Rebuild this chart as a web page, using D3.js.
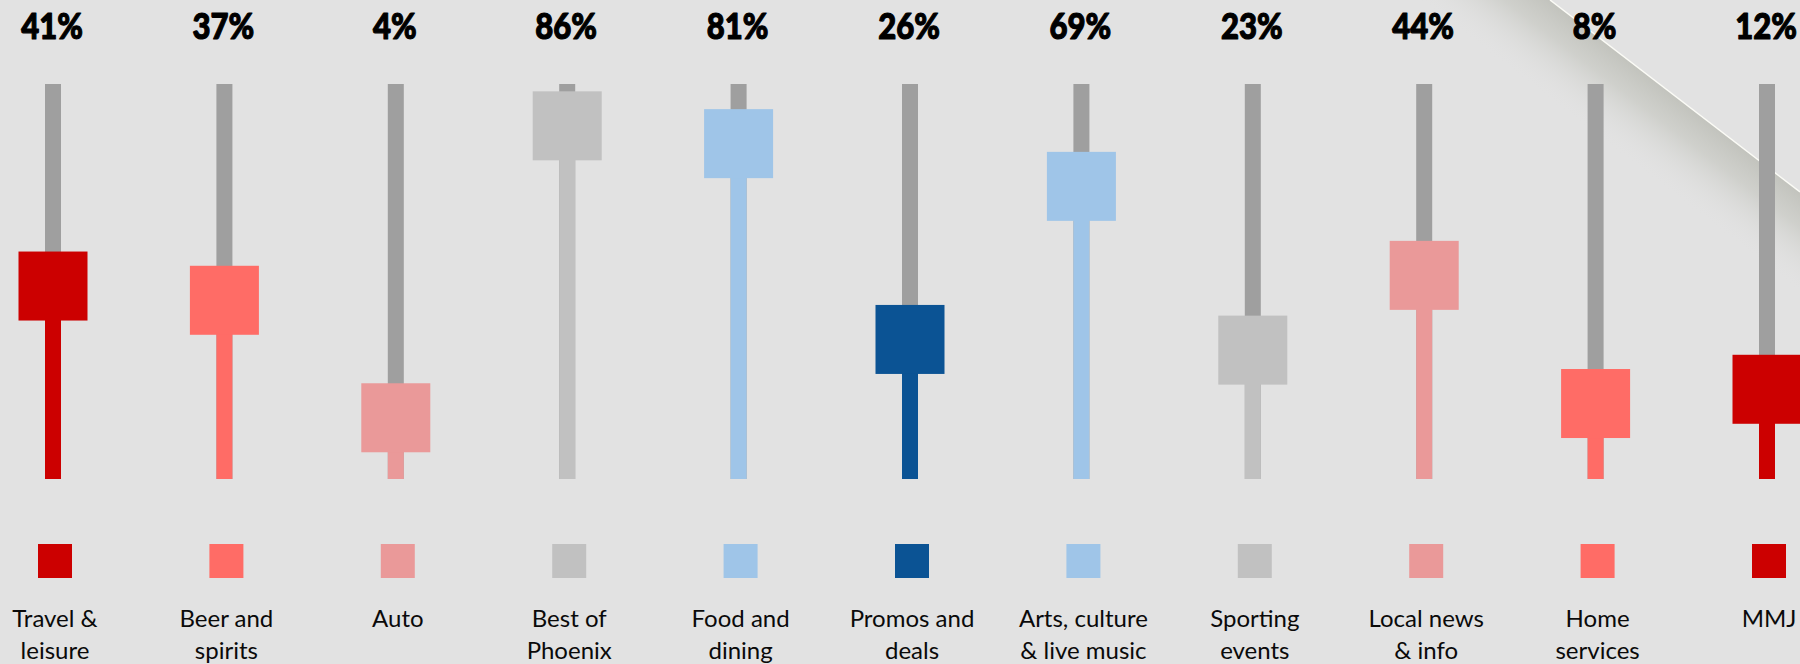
<!DOCTYPE html>
<html>
<head>
<meta charset="utf-8">
<script src="https://cdn.jsdelivr.net/npm/d3@7"></script>
<style>
  html, body { margin: 0; padding: 0; background: #e2e2e2; }
  svg { display: block; }
</style>
</head>
<body>
<svg id="chart" width="1800" height="664"></svg>
<script>
// Share of readers interested in each content category
const categories = ["Travel & leisure", "Beer and spirits", "Auto", "Best of Phoenix", "Food and dining",
  "Promos and deals", "Arts, culture & live music", "Sporting events", "Local news & info", "Home services", "MMJ"];
const labelLines = [["Travel &", "leisure"], ["Beer and", "spirits"], ["Auto"], ["Best of", "Phoenix"],
  ["Food and", "dining"], ["Promos and", "deals"], ["Arts, culture", "& live music"], ["Sporting", "events"],
  ["Local news", "& info"], ["Home", "services"], ["MMJ"]];
const values = [41, 37, 4, 86, 81, 26, 69, 23, 44, 8, 12];
const colors = ["#cc0000", "#ff6c66", "#ea9999", "#c1c1c1", "#9fc5e8", "#0b5394",
  "#9fc5e8", "#c1c1c1", "#ea9999", "#ff6c66", "#cc0000"];

const W = 1800, H = 664;
const svg = d3.select("#chart");

svg.append("rect").attr("width", W).attr("height", H).attr("fill", "#e2e2e2");

// folded corner in the upper right
const defs = svg.append("defs");
const grad = defs.append("linearGradient")
  .attr("id", "fold").attr("gradientUnits", "userSpaceOnUse")
  .attr("x1", 1675).attr("y1", 96).attr("x2", 1675 - 0.609 * 80).attr("y2", 96 + 0.793 * 80);
grad.append("stop").attr("offset", 0).attr("stop-color", "#c2c3bd").attr("stop-opacity", 1);
grad.append("stop").attr("offset", 0.35).attr("stop-color", "#cccdc8").attr("stop-opacity", 0.85);
grad.append("stop").attr("offset", 1).attr("stop-color", "#e2e2e2").attr("stop-opacity", 0);
svg.append("polygon")
  .attr("points", "1550,0 1800,192 1800,340 1360,0")
  .attr("fill", "url(#fold)");
svg.append("line")
  .attr("x1", 1550).attr("y1", 0).attr("x2", 1800).attr("y2", 192)
  .attr("stroke", "#fbfbf6").attr("stroke-width", 1.5);

const x = d3.scalePoint().domain(categories).range([53, 1767]);
const y = d3.scaleLinear().domain([0, 100]).range([432, 76]);

const trackTop = 84, trackBottom = 479, trackW = 16, knob = 69, swatch = 34;

const col = svg.selectAll("g.col")
  .data(categories.map((c, i) => ({ c, i, v: values[i], color: colors[i], lines: labelLines[i] })))
  .join("g").attr("class", "col")
  .attr("transform", d => `translate(${x(d.c)},0)`);

// value label
col.append("text")
  .attr("text-anchor", "middle")
  .attr("transform", "translate(-1,39) scale(0.84,1)")
  .attr("font-family", "Lato, 'Open Sans', sans-serif")
  .attr("font-weight", 900)
  .attr("font-size", 37)
  .attr("fill", "#000")
  .attr("stroke", "#000")
  .attr("stroke-width", 1.2)
  .attr("stroke-linejoin", "round")
  .text(d => d.v + "%");

// full track
col.append("rect")
  .attr("x", -trackW / 2).attr("y", trackTop)
  .attr("width", trackW).attr("height", trackBottom - trackTop)
  .attr("fill", "#9f9f9f");

// filled part of the track below the knob
col.append("rect")
  .attr("x", -trackW / 2).attr("y", d => y(d.v))
  .attr("width", trackW).attr("height", d => trackBottom - y(d.v))
  .attr("fill", d => d.color);

// knob
col.append("rect")
  .attr("x", -knob / 2).attr("y", d => y(d.v) - knob / 2)
  .attr("width", knob).attr("height", knob)
  .attr("fill", d => d.color);

// legend swatch
col.append("rect")
  .attr("x", -swatch / 2 + 2).attr("y", 544)
  .attr("width", swatch).attr("height", swatch)
  .attr("fill", d => d.color);

// category label
const lab = col.append("text")
  .attr("text-anchor", "middle")
  .attr("font-family", "Lato, 'Open Sans', sans-serif")
  .attr("font-size", 24)
  .attr("fill", "#0a0a0a");
lab.selectAll("tspan")
  .data(d => d.lines)
  .join("tspan")
  .attr("x", 2)
  .attr("y", (t, j) => 627 + j * 31.5)
  .text(t => t);
</script>
</body>
</html>
